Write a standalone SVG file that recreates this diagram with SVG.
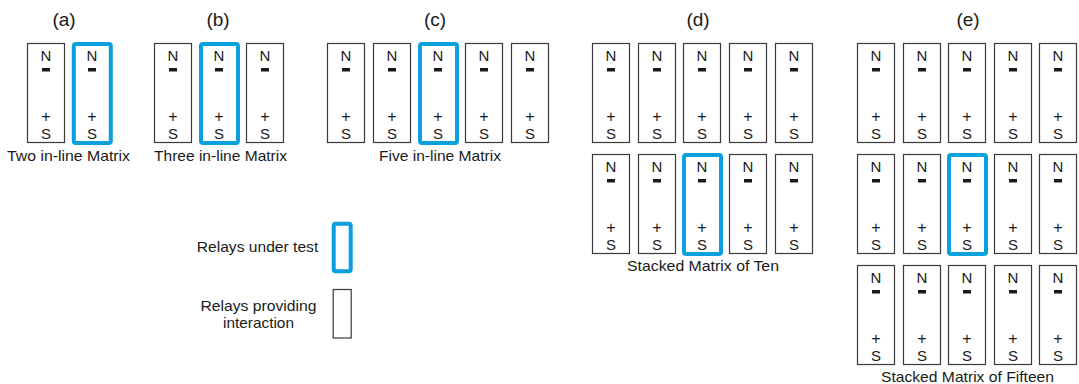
<svg xmlns="http://www.w3.org/2000/svg" width="1079" height="384" viewBox="0 0 1079 384">
<style>
.box{fill:#fff;stroke:#3a3a3a;stroke-width:1.2}
.test{fill:#fff;stroke:#0aa0dd;stroke-width:4}
.t{font-family:"Liberation Sans",Arial,sans-serif;font-size:15px;fill:#1a1a1a;text-anchor:middle}
.p{font-size:16px}
.h{font-family:"Liberation Sans",Arial,sans-serif;font-size:19px;fill:#1a1a1a;text-anchor:middle}
.bar{fill:#1a1a1a}
</style>
<rect width="1079" height="384" fill="#fff"/>
<g id="titles">
<text class="h" x="64" y="26">(a)</text>
<text class="h" x="218" y="26">(b)</text>
<text class="h" x="435" y="26">(c)</text>
<text class="h" x="698" y="26">(d)</text>
<text class="h" x="968" y="26">(e)</text>
<text class="t" x="68.5" y="161" textLength="123" lengthAdjust="spacingAndGlyphs">Two in-line Matrix</text>
<text class="t" x="220.5" y="161" textLength="133" lengthAdjust="spacingAndGlyphs">Three in-line Matrix</text>
<text class="t" x="440" y="161" textLength="122" lengthAdjust="spacingAndGlyphs">Five in-line Matrix</text>
<text class="t" x="703" y="270.5" textLength="152" lengthAdjust="spacingAndGlyphs">Stacked Matrix of Ten</text>
<text class="t" x="967.5" y="381.5" textLength="173" lengthAdjust="spacingAndGlyphs">Stacked Matrix of Fifteen</text>
</g>
<g id="connectors"/>
<!-- (a) -->
<g id="a1" transform="translate(27.5,43.5)"><rect class="box" width="37" height="99"/><text class="t" x="18.5" y="17.5">N</text><rect class="bar" x="14.5" y="24.5" width="8" height="3.5"/><text class="t p" x="18.5" y="78.8">+</text><text class="t" x="18.5" y="95">S</text></g>
<g id="a2" transform="translate(73.5,43.5)"><rect class="test" x="0.3" y="0.5" width="37" height="99" rx="2"/><text class="t" x="18.5" y="17.5">N</text><rect class="bar" x="14.5" y="24.5" width="8" height="3.5"/><text class="t p" x="18.5" y="78.8">+</text><text class="t" x="18.5" y="95">S</text></g>
<!-- (b) -->
<g id="b1" transform="translate(154.5,43.5)"><rect class="box" width="37" height="99"/><text class="t" x="18.5" y="17.5">N</text><rect class="bar" x="14.5" y="24.5" width="8" height="3.5"/><text class="t p" x="18.5" y="78.8">+</text><text class="t" x="18.5" y="95">S</text></g>
<g id="b2" transform="translate(200.5,43.5)"><rect class="test" x="0.5" y="0.5" width="37" height="99" rx="2"/><text class="t" x="18.5" y="17.5">N</text><rect class="bar" x="14.5" y="24.5" width="8" height="3.5"/><text class="t p" x="18.5" y="78.8">+</text><text class="t" x="18.5" y="95">S</text></g>
<g id="b3" transform="translate(246.5,43.5)"><rect class="box" width="37" height="99"/><text class="t" x="18.5" y="17.5">N</text><rect class="bar" x="14.5" y="24.5" width="8" height="3.5"/><text class="t p" x="18.5" y="78.8">+</text><text class="t" x="18.5" y="95">S</text></g>
<!-- (c) -->
<g id="c1" transform="translate(327.5,43.5)"><rect class="box" width="37" height="99"/><text class="t" x="18.5" y="17.5">N</text><rect class="bar" x="14.5" y="24.5" width="8" height="3.5"/><text class="t p" x="18.5" y="78.8">+</text><text class="t" x="18.5" y="95">S</text></g>
<g id="c2" transform="translate(373.5,43.5)"><rect class="box" width="37" height="99"/><text class="t" x="18.5" y="17.5">N</text><rect class="bar" x="14.5" y="24.5" width="8" height="3.5"/><text class="t p" x="18.5" y="78.8">+</text><text class="t" x="18.5" y="95">S</text></g>
<g id="c3" transform="translate(419.5,43.5)"><rect class="test" x="0.5" y="0.5" width="37" height="99" rx="2"/><text class="t" x="18.5" y="17.5">N</text><rect class="bar" x="14.5" y="24.5" width="8" height="3.5"/><text class="t p" x="18.5" y="78.8">+</text><text class="t" x="18.5" y="95">S</text></g>
<g id="c4" transform="translate(465.5,43.5)"><rect class="box" width="37" height="99"/><text class="t" x="18.5" y="17.5">N</text><rect class="bar" x="14.5" y="24.5" width="8" height="3.5"/><text class="t p" x="18.5" y="78.8">+</text><text class="t" x="18.5" y="95">S</text></g>
<g id="c5" transform="translate(511.5,43.5)"><rect class="box" width="37" height="99"/><text class="t" x="18.5" y="17.5">N</text><rect class="bar" x="14.5" y="24.5" width="8" height="3.5"/><text class="t p" x="18.5" y="78.8">+</text><text class="t" x="18.5" y="95">S</text></g>
<!-- (d) row 1 -->
<g id="d1" transform="translate(592.5,43.5)"><rect class="box" width="37" height="99"/><text class="t" x="18.5" y="17.5">N</text><rect class="bar" x="14.5" y="24.5" width="8" height="3.5"/><text class="t p" x="18.5" y="78.8">+</text><text class="t" x="18.5" y="95">S</text></g>
<g id="d2" transform="translate(638.5,43.5)"><rect class="box" width="37" height="99"/><text class="t" x="18.5" y="17.5">N</text><rect class="bar" x="14.5" y="24.5" width="8" height="3.5"/><text class="t p" x="18.5" y="78.8">+</text><text class="t" x="18.5" y="95">S</text></g>
<g id="d3" transform="translate(683.5,43.5)"><rect class="box" width="37" height="99"/><text class="t" x="18.5" y="17.5">N</text><rect class="bar" x="14.5" y="24.5" width="8" height="3.5"/><text class="t p" x="18.5" y="78.8">+</text><text class="t" x="18.5" y="95">S</text></g>
<g id="d4" transform="translate(729.5,43.5)"><rect class="box" width="37" height="99"/><text class="t" x="18.5" y="17.5">N</text><rect class="bar" x="14.5" y="24.5" width="8" height="3.5"/><text class="t p" x="18.5" y="78.8">+</text><text class="t" x="18.5" y="95">S</text></g>
<g id="d5" transform="translate(775.5,43.5)"><rect class="box" width="37" height="99"/><text class="t" x="18.5" y="17.5">N</text><rect class="bar" x="14.5" y="24.5" width="8" height="3.5"/><text class="t p" x="18.5" y="78.8">+</text><text class="t" x="18.5" y="95">S</text></g>
<!-- (d) row 2 -->
<g id="d6" transform="translate(592.5,154.5)"><rect class="box" width="37" height="99"/><text class="t" x="18.5" y="17.5">N</text><rect class="bar" x="14.5" y="24.5" width="8" height="3.5"/><text class="t p" x="18.5" y="78.8">+</text><text class="t" x="18.5" y="95">S</text></g>
<g id="d7" transform="translate(638.5,154.5)"><rect class="box" width="37" height="99"/><text class="t" x="18.5" y="17.5">N</text><rect class="bar" x="14.5" y="24.5" width="8" height="3.5"/><text class="t p" x="18.5" y="78.8">+</text><text class="t" x="18.5" y="95">S</text></g>
<g id="d8" transform="translate(683.5,154.5)"><rect class="test" x="0.5" y="0.5" width="37" height="99" rx="2"/><text class="t" x="18.5" y="17.5">N</text><rect class="bar" x="14.5" y="24.5" width="8" height="3.5"/><text class="t p" x="18.5" y="78.8">+</text><text class="t" x="18.5" y="95">S</text></g>
<g id="d9" transform="translate(729.5,154.5)"><rect class="box" width="37" height="99"/><text class="t" x="18.5" y="17.5">N</text><rect class="bar" x="14.5" y="24.5" width="8" height="3.5"/><text class="t p" x="18.5" y="78.8">+</text><text class="t" x="18.5" y="95">S</text></g>
<g id="d10" transform="translate(775.5,154.5)"><rect class="box" width="37" height="99"/><text class="t" x="18.5" y="17.5">N</text><rect class="bar" x="14.5" y="24.5" width="8" height="3.5"/><text class="t p" x="18.5" y="78.8">+</text><text class="t" x="18.5" y="95">S</text></g>
<!-- (e) row 1 -->
<g id="e1" transform="translate(857.5,43.5)"><rect class="box" width="37" height="99"/><text class="t" x="18.5" y="17.5">N</text><rect class="bar" x="14.5" y="24.5" width="8" height="3.5"/><text class="t p" x="18.5" y="78.8">+</text><text class="t" x="18.5" y="95">S</text></g>
<g id="e2" transform="translate(903.5,43.5)"><rect class="box" width="37" height="99"/><text class="t" x="18.5" y="17.5">N</text><rect class="bar" x="14.5" y="24.5" width="8" height="3.5"/><text class="t p" x="18.5" y="78.8">+</text><text class="t" x="18.5" y="95">S</text></g>
<g id="e3" transform="translate(948.5,43.5)"><rect class="box" width="37" height="99"/><text class="t" x="18.5" y="17.5">N</text><rect class="bar" x="14.5" y="24.5" width="8" height="3.5"/><text class="t p" x="18.5" y="78.8">+</text><text class="t" x="18.5" y="95">S</text></g>
<g id="e4" transform="translate(994.5,43.5)"><rect class="box" width="37" height="99"/><text class="t" x="18.5" y="17.5">N</text><rect class="bar" x="14.5" y="24.5" width="8" height="3.5"/><text class="t p" x="18.5" y="78.8">+</text><text class="t" x="18.5" y="95">S</text></g>
<g id="e5" transform="translate(1039.5,43.5)"><rect class="box" width="37" height="99"/><text class="t" x="18.5" y="17.5">N</text><rect class="bar" x="14.5" y="24.5" width="8" height="3.5"/><text class="t p" x="18.5" y="78.8">+</text><text class="t" x="18.5" y="95">S</text></g>
<!-- (e) row 2 -->
<g id="e6" transform="translate(857.5,154.5)"><rect class="box" width="37" height="99"/><text class="t" x="18.5" y="17.5">N</text><rect class="bar" x="14.5" y="24.5" width="8" height="3.5"/><text class="t p" x="18.5" y="78.8">+</text><text class="t" x="18.5" y="95">S</text></g>
<g id="e7" transform="translate(903.5,154.5)"><rect class="box" width="37" height="99"/><text class="t" x="18.5" y="17.5">N</text><rect class="bar" x="14.5" y="24.5" width="8" height="3.5"/><text class="t p" x="18.5" y="78.8">+</text><text class="t" x="18.5" y="95">S</text></g>
<g id="e8" transform="translate(948.5,154.5)"><rect class="test" x="0.5" y="0.5" width="37" height="99" rx="2"/><text class="t" x="18.5" y="17.5">N</text><rect class="bar" x="14.5" y="24.5" width="8" height="3.5"/><text class="t p" x="18.5" y="78.8">+</text><text class="t" x="18.5" y="95">S</text></g>
<g id="e9" transform="translate(994.5,154.5)"><rect class="box" width="37" height="99"/><text class="t" x="18.5" y="17.5">N</text><rect class="bar" x="14.5" y="24.5" width="8" height="3.5"/><text class="t p" x="18.5" y="78.8">+</text><text class="t" x="18.5" y="95">S</text></g>
<g id="e10" transform="translate(1039.5,154.5)"><rect class="box" width="37" height="99"/><text class="t" x="18.5" y="17.5">N</text><rect class="bar" x="14.5" y="24.5" width="8" height="3.5"/><text class="t p" x="18.5" y="78.8">+</text><text class="t" x="18.5" y="95">S</text></g>
<!-- (e) row 3 -->
<g id="e11" transform="translate(857.5,265.5)"><rect class="box" width="37" height="99"/><text class="t" x="18.5" y="17.5">N</text><rect class="bar" x="14.5" y="24.5" width="8" height="3.5"/><text class="t p" x="18.5" y="78.8">+</text><text class="t" x="18.5" y="95">S</text></g>
<g id="e12" transform="translate(903.5,265.5)"><rect class="box" width="37" height="99"/><text class="t" x="18.5" y="17.5">N</text><rect class="bar" x="14.5" y="24.5" width="8" height="3.5"/><text class="t p" x="18.5" y="78.8">+</text><text class="t" x="18.5" y="95">S</text></g>
<g id="e13" transform="translate(948.5,265.5)"><rect class="box" width="37" height="99"/><text class="t" x="18.5" y="17.5">N</text><rect class="bar" x="14.5" y="24.5" width="8" height="3.5"/><text class="t p" x="18.5" y="78.8">+</text><text class="t" x="18.5" y="95">S</text></g>
<g id="e14" transform="translate(994.5,265.5)"><rect class="box" width="37" height="99"/><text class="t" x="18.5" y="17.5">N</text><rect class="bar" x="14.5" y="24.5" width="8" height="3.5"/><text class="t p" x="18.5" y="78.8">+</text><text class="t" x="18.5" y="95">S</text></g>
<g id="e15" transform="translate(1039.5,265.5)"><rect class="box" width="37" height="99"/><text class="t" x="18.5" y="17.5">N</text><rect class="bar" x="14.5" y="24.5" width="8" height="3.5"/><text class="t p" x="18.5" y="78.8">+</text><text class="t" x="18.5" y="95">S</text></g>
<!-- legend -->
<g id="legend-test"><rect class="test" x="333.7" y="223.7" width="17" height="47.6" rx="2"/><text class="t" x="257.5" y="251.5" textLength="121.5" lengthAdjust="spacingAndGlyphs">Relays under test</text></g>
<g id="legend-interaction"><rect class="box" x="333.2" y="289.5" width="18" height="48.5"/><text class="t" x="258.5" y="310.5" textLength="116" lengthAdjust="spacingAndGlyphs">Relays providing</text><text class="t" x="258.5" y="328" textLength="71" lengthAdjust="spacingAndGlyphs">interaction</text></g>
</svg>
